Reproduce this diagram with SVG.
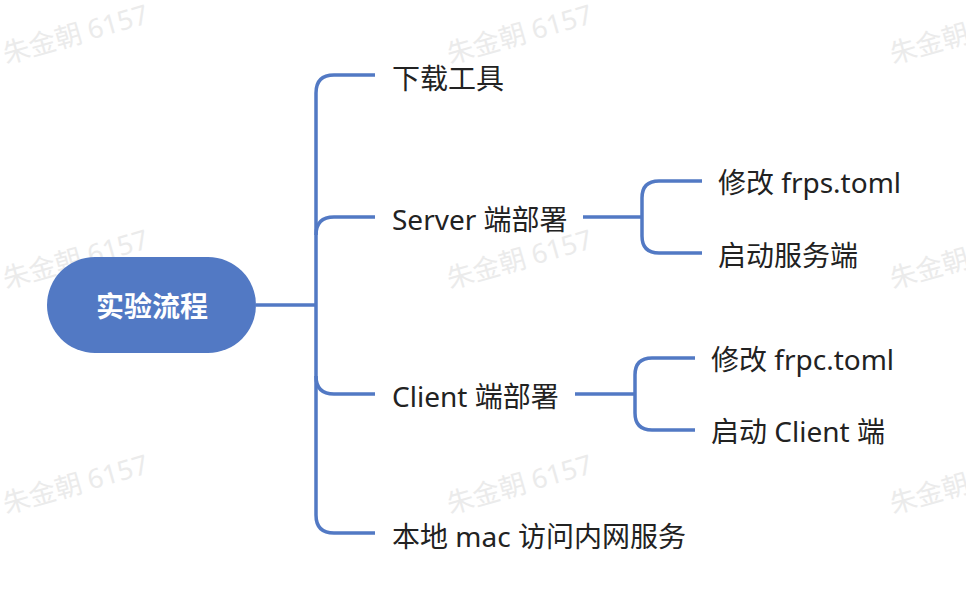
<svg xmlns="http://www.w3.org/2000/svg" width="966" height="612" viewBox="0 0 966 612">
  <style>
    .bg { fill: #ffffff; }
    .wm { font-family: "Noto Sans", "Noto Sans CJK SC", sans-serif; font-size: 27px; fill: #ebebeb; }
    .link { fill: none; stroke: #5279C4; stroke-width: 3.5; stroke-linecap: butt; stroke-linejoin: round; }
    .root { fill: #5279C4; }
    .root-label { font-family: "Noto Sans", "Noto Sans CJK SC", sans-serif; font-size: 28px; font-weight: bold; fill: #ffffff; text-anchor: middle; dominant-baseline: central; }
    .label { font-family: "Noto Sans", "Noto Sans CJK SC", sans-serif; font-size: 28px; fill: #222222; dominant-baseline: central; }
  </style>
  <rect class="bg" x="0" y="0" width="966" height="612"/>

  <g id="watermarks">
    <text class="wm" transform="translate(6,64) rotate(-16)">朱金朝 6157</text>
    <text class="wm" transform="translate(450,64) rotate(-16)">朱金朝 6157</text>
    <text class="wm" transform="translate(893,64) rotate(-16)">朱金朝 6157</text>
    <text class="wm" transform="translate(6,289) rotate(-16)">朱金朝 6157</text>
    <text class="wm" transform="translate(450,289) rotate(-16)">朱金朝 6157</text>
    <text class="wm" transform="translate(893,289) rotate(-16)">朱金朝 6157</text>
    <text class="wm" transform="translate(6,514) rotate(-16)">朱金朝 6157</text>
    <text class="wm" transform="translate(450,514) rotate(-16)">朱金朝 6157</text>
    <text class="wm" transform="translate(893,514) rotate(-16)">朱金朝 6157</text>
  </g>

  <g id="connectors">
    <path class="link" d="M256,305 H316"/>
    <path class="link" d="M375,75 H334 Q316,75 316,93 V515 Q316,533 334,533 H375"/>
    <path class="link" d="M375,217 H334 Q316,217 316,235"/>
    <path class="link" d="M375,394 H334 Q316,394 316,376"/>
    <path class="link" d="M583,217 H642"/>
    <path class="link" d="M702,181 H659 Q642,181 642,198 V236 Q642,253 659,253 H702"/>
    <path class="link" d="M575,394 H635"/>
    <path class="link" d="M695,358 H652 Q635,358 635,375 V413 Q635,430 652,430 H695"/>
  </g>

  <g id="node-root">
    <rect class="root" x="47" y="257" width="209" height="96" rx="48" ry="48"/>
    <text class="root-label" x="152" y="306">实验流程</text>
  </g>
  <g id="node-download">
    <text class="label" x="392" y="78">下载工具</text>
  </g>
  <g id="node-server">
    <text class="label" x="392" y="219">Server 端部署</text>
  </g>
  <g id="node-client">
    <text class="label" x="392" y="396">Client 端部署</text>
  </g>
  <g id="node-local">
    <text class="label" x="392" y="536">本地 mac 访问内网服务</text>
  </g>
  <g id="node-frps">
    <text class="label" x="718" y="182">修改 frps.toml</text>
  </g>
  <g id="node-start-server">
    <text class="label" x="718" y="255">启动服务端</text>
  </g>
  <g id="node-frpc">
    <text class="label" x="711" y="359">修改 frpc.toml</text>
  </g>
  <g id="node-start-client">
    <text class="label" x="711" y="431">启动 Client 端</text>
  </g>
</svg>
